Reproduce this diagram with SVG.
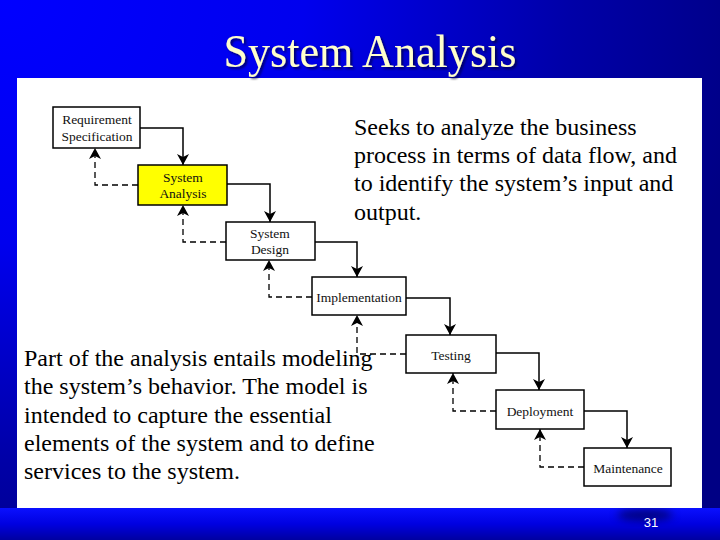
<svg xmlns="http://www.w3.org/2000/svg" width="720" height="540" viewBox="0 0 720 540">
<defs>
<radialGradient id="bg" gradientUnits="userSpaceOnUse" cx="0" cy="0" r="760" gradientTransform="scale(1,0.8)">
<stop offset="0" stop-color="#0000ff"/>
<stop offset="0.4" stop-color="#0000ee"/>
<stop offset="0.75" stop-color="#0000a8"/>
<stop offset="1" stop-color="#000084"/>
</radialGradient>
<linearGradient id="band" x1="0" y1="0" x2="0" y2="1">
<stop offset="0" stop-color="#0a10ff"/>
<stop offset="0.5" stop-color="#0000e0"/>
<stop offset="1" stop-color="#0000a0"/>
</linearGradient>
<filter id="blur" x="-50%" y="-50%" width="200%" height="200%"><feGaussianBlur stdDeviation="4"/></filter>
<filter id="shadow" x="-10%" y="-20%" width="120%" height="150%"><feDropShadow dx="2" dy="2" stdDeviation="0.8" flood-color="#000030" flood-opacity="0.7"/></filter>
<marker id="ah" markerUnits="userSpaceOnUse" markerWidth="12" markerHeight="12" refX="11" refY="6" orient="auto">
<path d="M0,0 L11,6 L0,12 L3,6 z" fill="#000"/>
</marker>
<style>
.box{fill:#fff;stroke:#000;stroke-width:1.5}
.lbl{font-family:"Liberation Serif","Times New Roman",serif;font-size:13.5px;fill:#111;text-anchor:middle}
.body{font-family:"Liberation Serif","Times New Roman",serif;font-size:24px;fill:#000}
.solid{fill:none;stroke:#000;stroke-width:1.5;marker-end:url(#ah)}
.dash{fill:none;stroke:#000;stroke-width:1.3;stroke-dasharray:6,4;marker-end:url(#ah)}
</style>
</defs>
<rect x="0" y="0" width="720" height="540" fill="url(#bg)"/>
<rect x="0" y="508" width="720" height="32" fill="url(#band)"/>
<ellipse cx="645" cy="515" rx="28" ry="6" fill="#000050" opacity="0.7" filter="url(#blur)"/>
<rect x="17" y="78" width="685" height="430" fill="#fff"/>
<text x="370" y="67" text-anchor="middle" font-family="Liberation Serif,'Times New Roman',serif" font-size="46" fill="#ffffcc" textLength="293" lengthAdjust="spacingAndGlyphs" filter="url(#shadow)">System Analysis</text>
<g id="connectors">
<path class="solid" d="M140,128 H183 V165"/>
<path class="solid" d="M227,184 H270 V222"/>
<path class="solid" d="M315,242 H357 V277"/>
<path class="solid" d="M406,298 H450 V335"/>
<path class="solid" d="M496,353 H539 V390"/>
<path class="solid" d="M584,411 H627 V448" stroke-width="2"/>
<path class="dash" d="M138,185 H95 V148"/>
<path class="dash" d="M226,242 H183 V205"/>
<path class="dash" d="M312,297 H269 V260"/>
<path class="dash" d="M406,354 H357 V315"/>
<path class="dash" d="M496,411 H453 V373" stroke-width="2"/>
<path class="dash" d="M584,467 H540 V429"/>
</g>
<g id="req"><rect class="box" x="53" y="107" width="87" height="41" stroke-width="2"/><text class="lbl" x="97" y="124">Requirement</text><text class="lbl" x="97" y="141">Specification</text></g>
<g id="sysanalysis"><rect class="box" x="138" y="165" width="89" height="40" style="fill:#ffff00" stroke-width="2"/><text class="lbl" x="183" y="182">System</text><text class="lbl" x="183" y="198">Analysis</text></g>
<g id="sysdesign"><rect class="box" x="226" y="222" width="89" height="38"/><text class="lbl" x="270" y="238">System</text><text class="lbl" x="270" y="254">Design</text></g>
<g id="impl"><rect class="box" x="312" y="277" width="94" height="38"/><text class="lbl" x="359" y="302">Implementation</text></g>
<g id="testing"><rect class="box" x="406" y="335" width="90" height="38"/><text class="lbl" x="451" y="360">Testing</text></g>
<g id="deploy"><rect class="box" x="496" y="390" width="88" height="39"/><text class="lbl" x="540" y="416">Deployment</text></g>
<g id="maint"><rect class="box" x="584" y="448" width="87" height="38"/><text class="lbl" x="628" y="473">Maintenance</text></g>
<g id="text1">
<text class="body" x="354" y="135">Seeks to analyze the business</text>
<text class="body" x="354" y="163">process in terms of data flow, and</text>
<text class="body" x="354" y="191">to identify the system’s input and</text>
<text class="body" x="354" y="220">output.</text>
</g>
<g id="text2">
<text class="body" x="24" y="366">Part of the analysis entails modeling</text>
<text class="body" x="24" y="394">the system’s behavior. The model is</text>
<text class="body" x="24" y="423">intended to capture the essential</text>
<text class="body" x="24" y="451">elements of the system and to define</text>
<text class="body" x="24" y="479">services to the system.</text>
</g>
<text x="651" y="527" text-anchor="middle" font-family="Liberation Sans,Arial,sans-serif" font-size="13" fill="#fff">31</text>
</svg>
